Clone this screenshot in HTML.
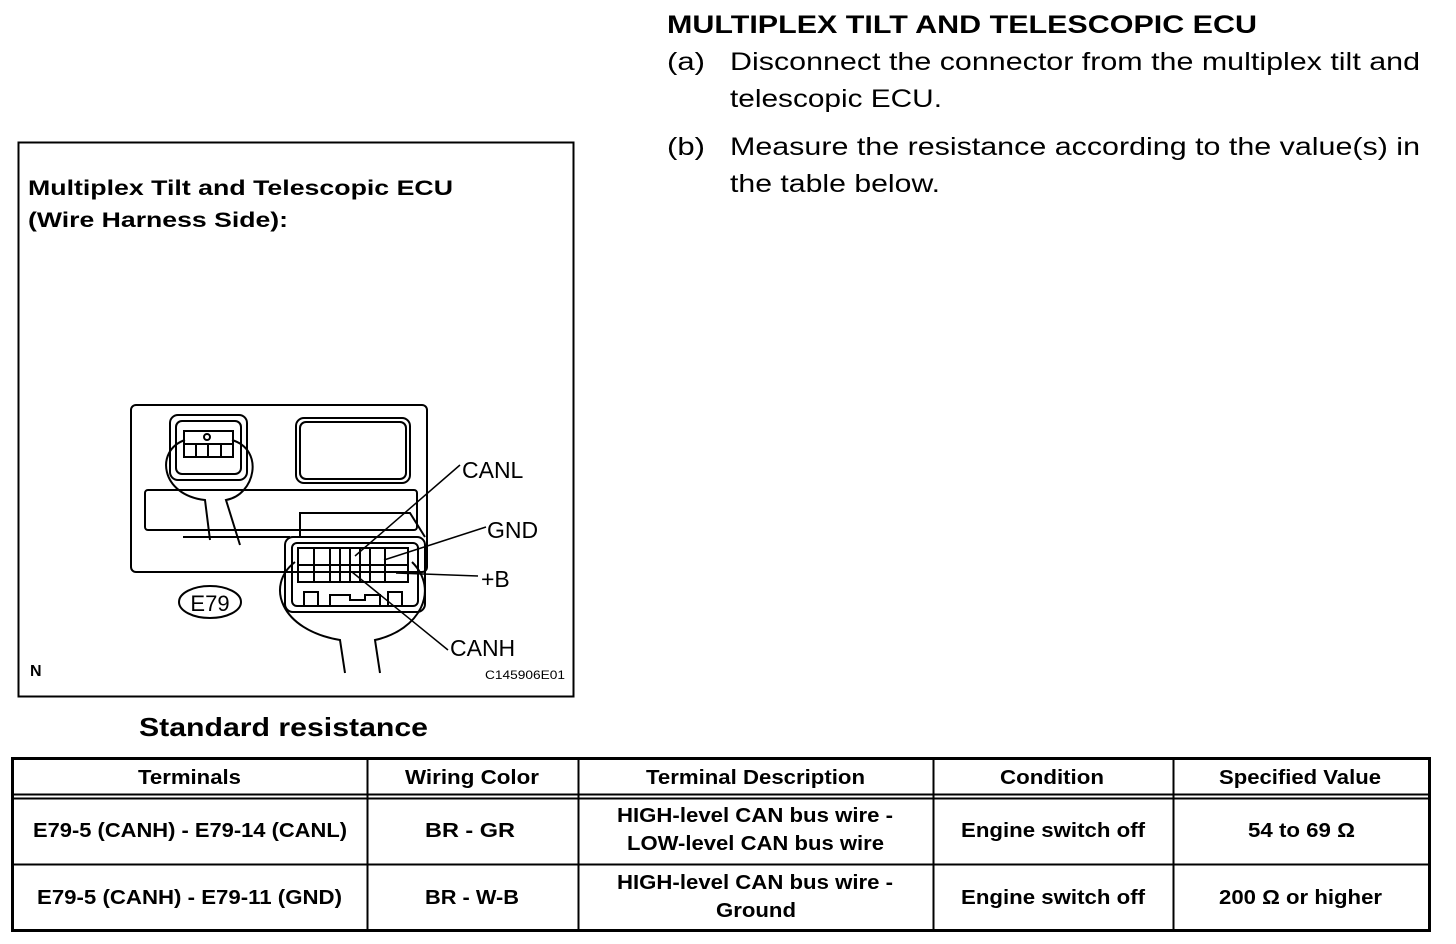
<!DOCTYPE html>
<html><head><meta charset="utf-8"><style>
html,body{margin:0;padding:0;background:#fff;}
svg{display:block;}
text{font-family:"Liberation Sans",Arial,sans-serif;fill:#000;}
</style></head><body>
<svg width="1456" height="944" viewBox="0 0 1456 944" xmlns="http://www.w3.org/2000/svg">
<g font-size="25">
<text x="667" y="33" font-weight="bold" textLength="590" lengthAdjust="spacingAndGlyphs">MULTIPLEX TILT AND TELESCOPIC ECU</text>
<text x="667" y="70" textLength="38" lengthAdjust="spacingAndGlyphs">(a)</text>
<text x="730" y="70" textLength="690" lengthAdjust="spacingAndGlyphs">Disconnect the connector from the multiplex tilt and</text>
<text x="730" y="107" textLength="212" lengthAdjust="spacingAndGlyphs">telescopic ECU.</text>
<text x="667" y="155" textLength="38" lengthAdjust="spacingAndGlyphs">(b)</text>
<text x="730" y="155" textLength="690" lengthAdjust="spacingAndGlyphs">Measure the resistance according to the value(s) in</text>
<text x="730" y="192" textLength="210" lengthAdjust="spacingAndGlyphs">the table below.</text>
</g>
<rect x="18.5" y="142.5" width="555" height="554" fill="none" stroke="#000" stroke-width="2"/>
<text x="28" y="195" font-size="21" font-weight="bold" textLength="425" lengthAdjust="spacingAndGlyphs">Multiplex Tilt and Telescopic ECU</text>
<text x="28" y="227" font-size="21" font-weight="bold" textLength="260" lengthAdjust="spacingAndGlyphs">(Wire Harness Side):</text>
<g fill="none" stroke="#000" stroke-width="2">
<rect x="131" y="405" width="296" height="167" rx="5"/>
<rect x="145" y="490" width="272" height="40" rx="3"/>
<line x1="183" y1="537" x2="290" y2="537"/>
<rect x="170" y="415" width="77" height="65" rx="8"/>
<rect x="176" y="421" width="65" height="53" rx="6"/>
<rect x="184" y="431" width="49" height="26"/>
<line x1="184" y1="444" x2="233" y2="444"/><line x1="196" y1="444" x2="196" y2="457"/><line x1="208" y1="444" x2="208" y2="457"/><line x1="221" y1="444" x2="221" y2="457"/>
<circle cx="207" cy="437" r="3"/>
<path d="M185 440 C155 450 160 495 205 500 L210 540 M232 440 C265 450 255 495 226 500 L240 545"/>
<rect x="296" y="418" width="114" height="65" rx="8"/>
<rect x="300" y="422" width="106" height="57" rx="6"/>
<path d="M300 537 L300 513 L410 513 L425 537"/>
<rect x="285" y="537" width="140" height="75" rx="8"/>
<rect x="292" y="543" width="126" height="63" rx="5"/>
<rect x="298" y="548" width="110" height="34"/>
<line x1="298" y1="565" x2="408" y2="565"/>
<line x1="314" y1="548" x2="314" y2="582"/><line x1="330" y1="548" x2="330" y2="582"/><line x1="340" y1="548" x2="340" y2="582"/><line x1="350" y1="548" x2="350" y2="582"/><line x1="360" y1="548" x2="360" y2="582"/><line x1="370" y1="548" x2="370" y2="582"/><line x1="385" y1="548" x2="385" y2="582"/>
<rect x="304" y="592" width="14" height="14"/><rect x="388" y="592" width="14" height="14"/>
<path d="M330 606 L330 595 L350 595 L350 600 L365 600 L365 595 L380 595 L380 606"/>
<path d="M295 562 C265 585 280 630 340 640 L345 673 M412 562 C440 590 420 630 375 640 L380 673"/>
<ellipse cx="210" cy="602" rx="31" ry="16"/>
</g>
<g stroke="#000" stroke-width="1.5">
<line x1="355" y1="556" x2="460" y2="465"/>
<line x1="384" y1="560" x2="486" y2="527"/>
<line x1="396" y1="573" x2="478" y2="576"/>
<line x1="352" y1="572" x2="448" y2="650"/>
</g>
<g font-size="23">
<text x="210" y="611" font-size="22" text-anchor="middle">E79</text>
<text x="462" y="478">CANL</text>
<text x="487" y="538">GND</text>
<text x="481" y="587">+B</text>
<text x="450" y="656">CANH</text>
</g>
<text x="30" y="676" font-size="16" font-weight="bold">N</text>
<text x="485" y="679" font-size="12" textLength="80" lengthAdjust="spacingAndGlyphs">C145906E01</text>
<text x="139" y="736" font-size="26" font-weight="bold" textLength="289" lengthAdjust="spacingAndGlyphs">Standard resistance</text>
<g stroke="#000" fill="none">
<rect x="12.5" y="758.5" width="1417" height="172" stroke-width="3"/>
<line x1="12" y1="794.5" x2="1430" y2="794.5" stroke-width="2"/>
<line x1="12" y1="798.5" x2="1430" y2="798.5" stroke-width="2"/>
<line x1="12" y1="864.5" x2="1430" y2="864.5" stroke-width="2"/>
<line x1="367.5" y1="758" x2="367.5" y2="931" stroke-width="2"/>
<line x1="578.5" y1="758" x2="578.5" y2="931" stroke-width="2"/>
<line x1="933.5" y1="758" x2="933.5" y2="931" stroke-width="2"/>
<line x1="1173.5" y1="758" x2="1173.5" y2="931" stroke-width="2"/>
</g>
<g font-size="20" font-weight="bold">
<text x="138" y="784" textLength="103" lengthAdjust="spacingAndGlyphs">Terminals</text>
<text x="405" y="784" textLength="134" lengthAdjust="spacingAndGlyphs">Wiring Color</text>
<text x="646" y="784" textLength="219" lengthAdjust="spacingAndGlyphs">Terminal Description</text>
<text x="1000" y="784" textLength="104" lengthAdjust="spacingAndGlyphs">Condition</text>
<text x="1219" y="784" textLength="162" lengthAdjust="spacingAndGlyphs">Specified Value</text>
<text x="33" y="837" textLength="314" lengthAdjust="spacingAndGlyphs">E79-5 (CANH) - E79-14 (CANL)</text>
<text x="425" y="837" textLength="90" lengthAdjust="spacingAndGlyphs">BR - GR</text>
<text x="617" y="822" textLength="276" lengthAdjust="spacingAndGlyphs">HIGH-level CAN bus wire -</text>
<text x="627" y="850" textLength="257" lengthAdjust="spacingAndGlyphs">LOW-level CAN bus wire</text>
<text x="961" y="837" textLength="184" lengthAdjust="spacingAndGlyphs">Engine switch off</text>
<text x="1248" y="837" textLength="107" lengthAdjust="spacingAndGlyphs">54 to 69 Ω</text>
<text x="37" y="904" textLength="305" lengthAdjust="spacingAndGlyphs">E79-5 (CANH) - E79-11 (GND)</text>
<text x="425" y="904" textLength="94" lengthAdjust="spacingAndGlyphs">BR - W-B</text>
<text x="617" y="889" textLength="276" lengthAdjust="spacingAndGlyphs">HIGH-level CAN bus wire -</text>
<text x="716" y="917" textLength="80" lengthAdjust="spacingAndGlyphs">Ground</text>
<text x="961" y="904" textLength="184" lengthAdjust="spacingAndGlyphs">Engine switch off</text>
<text x="1219" y="904" textLength="163" lengthAdjust="spacingAndGlyphs">200 Ω or higher</text>
</g>
</svg>
</body></html>
